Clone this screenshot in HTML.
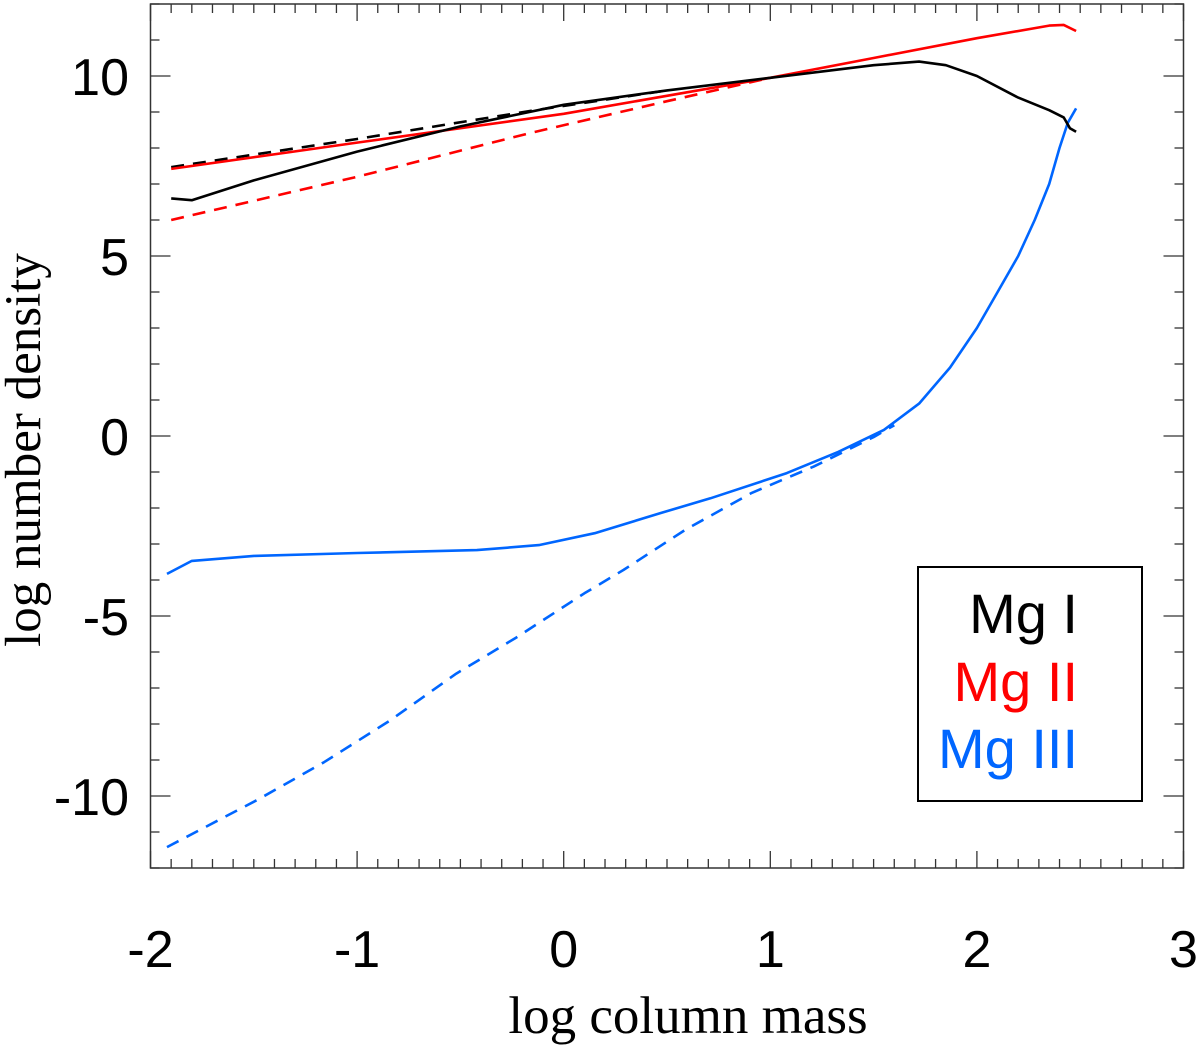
<!DOCTYPE html>
<html><head><meta charset="utf-8"><style>
body{margin:0;background:#fff}
svg{display:block}
</style></head><body>
<svg id="chart" width="1200" height="1046" viewBox="0 0 1200 1046" xmlns="http://www.w3.org/2000/svg">
<g id="ticks"></g>
<g id="series"></g>
<rect x="150.5" y="4" width="1033" height="864" fill="none" stroke="#333" stroke-width="1.5"/>
<g id="labels" font-family="'Liberation Sans', sans-serif" font-size="52" fill="#000"></g>
<text x="688" y="1033" text-anchor="middle" font-family="'Liberation Serif', serif" font-size="53">log column mass</text>
<text transform="translate(40,450) rotate(-90)" text-anchor="middle" font-family="'Liberation Serif', serif" font-size="51">log number density</text>
<g>
<rect x="918" y="567" width="224" height="234" fill="#fff" stroke="#000" stroke-width="2"/>
<text x="1078" y="633" text-anchor="end" font-family="'Liberation Sans', sans-serif" font-size="56" fill="#000">Mg I</text>
<text x="1078" y="701" text-anchor="end" font-family="'Liberation Sans', sans-serif" font-size="56" fill="#ff0000">Mg II</text>
<text x="1078" y="768" text-anchor="end" font-family="'Liberation Sans', sans-serif" font-size="56" fill="#0066ff">Mg III</text>
</g>
</svg>
<script>
const xTicks = [-2, -1, 0, 1, 2, 3];
const yTicks = [-10, -5, 0, 5, 10];
const mg1X = [-1.9, -1.8, -1.5, -1, -0.5, 0, 0.5, 1, 1.5, 1.72, 1.85, 2.0, 2.2, 2.35, 2.42, 2.45, 2.48];
const mg1Y = [6.6, 6.55, 7.1, 7.9, 8.6, 9.2, 9.6, 9.95, 10.3, 10.4, 10.3, 10.0, 9.4, 9.05, 8.85, 8.55, 8.45];
const mg1LteX = [-1.9, -1, -0.16, 0.5];
const mg1LteY = [7.47, 8.25, 9.03, 9.6];
const mg2X = [-1.9, -1, 0, 1, 1.5, 2, 2.35, 2.42, 2.48];
const mg2Y = [7.42, 8.15, 8.95, 9.95, 10.5, 11.05, 11.4, 11.42, 11.25];
const mg2LteX = [-1.9, -1, -0.16, 0.5, 1.0];
const mg2LteY = [6.0, 7.2, 8.42, 9.3, 9.95];
const mg3X = [-1.92, -1.8, -1.5, -1.0, -0.42, -0.12, 0.15, 0.47, 0.71, 1.08, 1.33, 1.55, 1.72, 1.87, 2.0, 2.1, 2.2, 2.28, 2.35, 2.4, 2.44, 2.48];
const mg3Y = [-3.83, -3.47, -3.33, -3.25, -3.17, -3.03, -2.7, -2.14, -1.73, -1.03, -0.44, 0.17, 0.9, 1.9, 3.0, 4.0, 5.0, 6.0, 7.0, 8.0, 8.7, 9.1];
const mg3LteX = [-1.92, -1.48, -1.16, -0.84, -0.52, -0.23, 0.1, 0.29, 0.59, 0.91, 1.21, 1.5, 1.6];
const mg3LteY = [-11.42, -10.1, -9.06, -7.9, -6.6, -5.6, -4.37, -3.72, -2.6, -1.58, -0.85, -0.03, 0.3];

const X0 = 150.5, X1 = 1183.5, Y0 = 868, Y1 = 4;
function sx(v){ return X0 + (v + 2) / 5 * (X1 - X0); }
function sy(v){ return Y0 - (v + 12) / 24 * (Y0 - Y1); }
const NS = 'http://www.w3.org/2000/svg';
const tg = document.getElementById('ticks');
const sg = document.getElementById('series');
const lg = document.getElementById('labels');
function line(g, x1, y1, x2, y2){
  const l = document.createElementNS(NS, 'line');
  l.setAttribute('x1', x1); l.setAttribute('y1', y1); l.setAttribute('x2', x2); l.setAttribute('y2', y2);
  l.setAttribute('stroke', '#333'); l.setAttribute('stroke-width', '1.3');
  
  
  g.appendChild(l);
}
for (let i = 0; i <= 50; i++) {
  const v = -2 + i * 0.1; const x = sx(v);
  const len = (i % 10 === 0) ? 17 : 9;
  line(tg, x, Y0, x, Y0 - len); line(tg, x, Y1, x, Y1 + len);
}
for (let v = -12; v <= 12; v++) {
  const y = sy(v); const len = (v % 5 === 0) ? 20 : 9;
  line(tg, X0, y, X0 + len, y); line(tg, X1, y, X1 - len, y);
}
xTicks.forEach(v => {
  const t = document.createElementNS(NS, 'text');
  t.setAttribute('x', sx(v)); t.setAttribute('y', 967); t.setAttribute('text-anchor', 'middle');
  t.textContent = String(v);
  
  
  lg.appendChild(t);
});
yTicks.forEach(v => {
  const t = document.createElementNS(NS, 'text');
  t.setAttribute('x', 129); t.setAttribute('y', sy(v) + 19); t.setAttribute('text-anchor', 'end');
  t.textContent = String(v);
  
  
  lg.appendChild(t);
});
function series(xs, ys, color, dashed, name){
  const p = document.createElementNS(NS, 'path');
  p.setAttribute('d', xs.map((x, i) => (i ? 'L' : 'M') + sx(x).toFixed(1) + ',' + sy(ys[i]).toFixed(1)).join(''));
  p.setAttribute('fill', 'none'); p.setAttribute('stroke', color); p.setAttribute('stroke-width', '2.6');
  p.setAttribute('stroke-linejoin', 'round');
  if (dashed) p.setAttribute('stroke-dasharray', '13 9');
  
  
  sg.appendChild(p);
}
series(mg3LteX, mg3LteY, '#0066ff', true, 'mg-iii-lte-line');
series(mg3X, mg3Y, '#0066ff', false, 'mg-iii-line');
series(mg2LteX, mg2LteY, '#ff0000', true, 'mg-ii-lte-line');
series(mg1LteX, mg1LteY, '#000000', true, 'mg-i-lte-line');
series(mg2X, mg2Y, '#ff0000', false, 'mg-ii-line');
series(mg1X, mg1Y, '#000000', false, 'mg-i-line');
</script>
</body></html>
